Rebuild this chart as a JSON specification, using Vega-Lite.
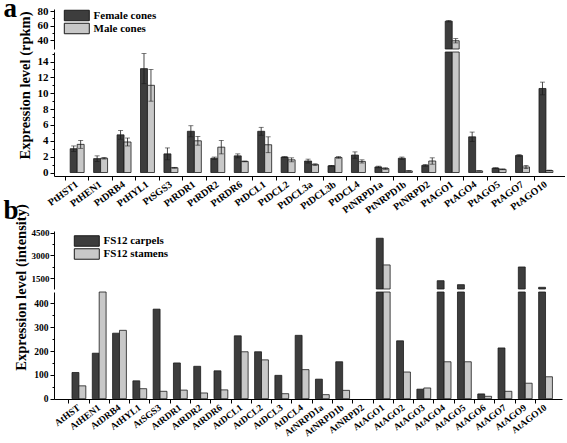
{
  "$schema": "https://vega.github.io/schema/vega-lite/v6.json",
  "padding": {"left": 3, "top": -6, "right": 0, "bottom": 0},
  "background": "white",
  "datasets": {
    "a": [
      {"g": "PtHST1", "s": "Female cones", "v": 3.0, "lo": 2.65, "hi": 3.35},
      {"g": "PtHST1", "s": "Male cones", "v": 3.55, "lo": 3.05, "hi": 4.05},
      {"g": "PtHEN1", "s": "Female cones", "v": 1.75, "lo": 1.4, "hi": 2.1},
      {"g": "PtHEN1", "s": "Male cones", "v": 1.8, "lo": 1.7, "hi": 1.9},
      {"g": "PtDRB4", "s": "Female cones", "v": 4.75, "lo": 4.2, "hi": 5.3},
      {"g": "PtDRB4", "s": "Male cones", "v": 3.85, "lo": 3.35, "hi": 4.35},
      {"g": "PtHYL1", "s": "Female cones", "v": 13.1, "lo": 11.2, "hi": 15.0},
      {"g": "PtHYL1", "s": "Male cones", "v": 11.0, "lo": 9.0, "hi": 13.0},
      {"g": "PtSGS3", "s": "Female cones", "v": 2.35, "lo": 1.6, "hi": 3.1},
      {"g": "PtSGS3", "s": "Male cones", "v": 0.6, "lo": 0.55, "hi": 0.65},
      {"g": "PtRDR1", "s": "Female cones", "v": 5.2, "lo": 4.5, "hi": 5.9},
      {"g": "PtRDR1", "s": "Male cones", "v": 4.0, "lo": 3.45, "hi": 4.55},
      {"g": "PtRDR2", "s": "Female cones", "v": 1.8, "lo": 1.65, "hi": 1.95},
      {"g": "PtRDR2", "s": "Male cones", "v": 3.2, "lo": 2.35, "hi": 4.05},
      {"g": "PtRDR6", "s": "Female cones", "v": 2.1, "lo": 1.85, "hi": 2.35},
      {"g": "PtRDR6", "s": "Male cones", "v": 1.4, "lo": 1.35, "hi": 1.45},
      {"g": "PtDCL1", "s": "Female cones", "v": 5.2, "lo": 4.7, "hi": 5.7},
      {"g": "PtDCL1", "s": "Male cones", "v": 3.5, "lo": 2.5, "hi": 4.5},
      {"g": "PtDCL2", "s": "Female cones", "v": 1.95, "lo": 1.9, "hi": 2.0},
      {"g": "PtDCL2", "s": "Male cones", "v": 1.6, "lo": 1.35, "hi": 1.85},
      {"g": "PtDCL3a", "s": "Female cones", "v": 1.45, "lo": 1.2, "hi": 1.7},
      {"g": "PtDCL3a", "s": "Male cones", "v": 1.0, "lo": 0.9, "hi": 1.1},
      {"g": "PtDCL3b", "s": "Female cones", "v": 0.85, "lo": 0.8, "hi": 0.9},
      {"g": "PtDCL3b", "s": "Male cones", "v": 1.9, "lo": 1.8, "hi": 2.0},
      {"g": "PtDCL4", "s": "Female cones", "v": 2.2, "lo": 1.8, "hi": 2.6},
      {"g": "PtDCL4", "s": "Male cones", "v": 1.4, "lo": 1.2, "hi": 1.6},
      {"g": "PtNRPD1a", "s": "Female cones", "v": 0.7, "lo": 0.6, "hi": 0.8},
      {"g": "PtNRPD1a", "s": "Male cones", "v": 0.5, "lo": 0.4, "hi": 0.6},
      {"g": "PtNRPD1b", "s": "Female cones", "v": 1.8, "lo": 1.65, "hi": 1.95},
      {"g": "PtNRPD1b", "s": "Male cones", "v": 0.2, "lo": 0.15, "hi": 0.25},
      {"g": "PtNRPD2", "s": "Female cones", "v": 0.9, "lo": 0.8, "hi": 1.0},
      {"g": "PtNRPD2", "s": "Male cones", "v": 1.45, "lo": 1.05, "hi": 1.85},
      {"g": "PtAGO1", "s": "Female cones", "v": 66, "lo": 65, "hi": 67},
      {"g": "PtAGO1", "s": "Male cones", "v": 39, "lo": 36, "hi": 42},
      {"g": "PtAGO4", "s": "Female cones", "v": 4.5, "lo": 3.9, "hi": 5.1},
      {"g": "PtAGO4", "s": "Male cones", "v": 0.2, "lo": 0.18, "hi": 0.22},
      {"g": "PtAGO5", "s": "Female cones", "v": 0.55, "lo": 0.5, "hi": 0.6},
      {"g": "PtAGO5", "s": "Male cones", "v": 0.4, "lo": 0.35, "hi": 0.45},
      {"g": "PtAGO7", "s": "Female cones", "v": 2.15, "lo": 2.05, "hi": 2.25},
      {"g": "PtAGO7", "s": "Male cones", "v": 0.7, "lo": 0.5, "hi": 0.9},
      {"g": "PtAGO10", "s": "Female cones", "v": 10.6, "lo": 9.8, "hi": 11.4},
      {"g": "PtAGO10", "s": "Male cones", "v": 0.25, "lo": 0.2, "hi": 0.3}
    ],
    "b": [
      {"g": "AtHST", "s": "FS12 carpels", "v": 110}, {"g": "AtHST", "s": "FS12 stamens", "v": 54},
      {"g": "AtHEN1", "s": "FS12 carpels", "v": 191}, {"g": "AtHEN1", "s": "FS12 stamens", "v": 600},
      {"g": "AtDRB4", "s": "FS12 carpels", "v": 275}, {"g": "AtDRB4", "s": "FS12 stamens", "v": 287},
      {"g": "AtHYL1", "s": "FS12 carpels", "v": 75}, {"g": "AtHYL1", "s": "FS12 stamens", "v": 42},
      {"g": "AtSGS3", "s": "FS12 carpels", "v": 376}, {"g": "AtSGS3", "s": "FS12 stamens", "v": 31},
      {"g": "AtRDR1", "s": "FS12 carpels", "v": 150}, {"g": "AtRDR1", "s": "FS12 stamens", "v": 36},
      {"g": "AtRDR2", "s": "FS12 carpels", "v": 136}, {"g": "AtRDR2", "s": "FS12 stamens", "v": 24},
      {"g": "AtRDR6", "s": "FS12 carpels", "v": 117}, {"g": "AtRDR6", "s": "FS12 stamens", "v": 37},
      {"g": "AtDCL1", "s": "FS12 carpels", "v": 264}, {"g": "AtDCL1", "s": "FS12 stamens", "v": 197},
      {"g": "AtDCL2", "s": "FS12 carpels", "v": 197}, {"g": "AtDCL2", "s": "FS12 stamens", "v": 163},
      {"g": "AtDCL3", "s": "FS12 carpels", "v": 98}, {"g": "AtDCL3", "s": "FS12 stamens", "v": 21},
      {"g": "AtDCL4", "s": "FS12 carpels", "v": 266}, {"g": "AtDCL4", "s": "FS12 stamens", "v": 122},
      {"g": "AtNRPD1a", "s": "FS12 carpels", "v": 82}, {"g": "AtNRPD1a", "s": "FS12 stamens", "v": 17},
      {"g": "AtNRPD1b", "s": "FS12 carpels", "v": 155}, {"g": "AtNRPD1b", "s": "FS12 stamens", "v": 35},
      {"g": "AtNRPD2", "s": "FS12 carpels", "v": 0}, {"g": "AtNRPD2", "s": "FS12 stamens", "v": 0},
      {"g": "AtAGO1", "s": "FS12 carpels", "v": 4150}, {"g": "AtAGO1", "s": "FS12 stamens", "v": 2370},
      {"g": "AtAGO2", "s": "FS12 carpels", "v": 243}, {"g": "AtAGO2", "s": "FS12 stamens", "v": 112},
      {"g": "AtAGO3", "s": "FS12 carpels", "v": 40}, {"g": "AtAGO3", "s": "FS12 stamens", "v": 45},
      {"g": "AtAGO4", "s": "FS12 carpels", "v": 1320}, {"g": "AtAGO4", "s": "FS12 stamens", "v": 155},
      {"g": "AtAGO5", "s": "FS12 carpels", "v": 1055}, {"g": "AtAGO5", "s": "FS12 stamens", "v": 155},
      {"g": "AtAGO6", "s": "FS12 carpels", "v": 20}, {"g": "AtAGO6", "s": "FS12 stamens", "v": 10},
      {"g": "AtAGO7", "s": "FS12 carpels", "v": 213}, {"g": "AtAGO7", "s": "FS12 stamens", "v": 31},
      {"g": "AtAGO9", "s": "FS12 carpels", "v": 2235}, {"g": "AtAGO9", "s": "FS12 stamens", "v": 65},
      {"g": "AtAGO10", "s": "FS12 carpels", "v": 880}, {"g": "AtAGO10", "s": "FS12 stamens", "v": 92}
    ]
  },
  "bounds": "flush",
  "spacing": 3,
  "resolve": {
    "scale": {"color": "independent", "x": "independent", "y": "independent", "xOffset": "independent"},
    "legend": {"color": "independent"},
    "axis": {"x": "independent", "y": "independent"}
  },
  "vconcat": [
    {
      "width": 511, "height": 40,
      "data": {"name": "a"},
      "resolve": {"axis": {"y": "independent"}},
      "layer": [
        {
          "transform": [{"filter": "datum.v > 27.6"}],
          "mark": {"type": "bar", "stroke": "#1a1a1a", "strokeWidth": 0.8},
          "encoding": {
            "x": {"field": "g", "type": "nominal", "sort": null, "scale": {"domain": ["PtHST1","PtHEN1","PtDRB4","PtHYL1","PtSGS3","PtRDR1","PtRDR2","PtRDR6","PtDCL1","PtDCL2","PtDCL3a","PtDCL3b","PtDCL4","PtNRPD1a","PtNRPD1b","PtNRPD2","PtAGO1","PtAGO4","PtAGO5","PtAGO7","PtAGO10"], "paddingInner": 0, "paddingOuter": 0.4, "align": 0.61}, "axis": null},
            "xOffset": {"field": "s", "type": "nominal", "sort": null, "scale": {"domain": ["Female cones", "Male cones"], "paddingInner": 0, "paddingOuter": 0.68}},
            "y": {"field": "v", "type": "quantitative", "scale": {"domain": [27.6, 82.8], "nice": false, "clamp": true},
              "axis": {"orient": "left", "values": [40, 60, 80], "title": "a", "titleAngle": 0, "titleX": -51, "titleY": 7, "titleFontSize": 27, "titleAlign": "left", "titleBaseline": "alphabetic"}},
            "color": {"field": "s", "type": "nominal", "sort": null, "scale": {"domain": ["Female cones", "Male cones"], "range": ["#3d3d3d", "#c8c8c8"]},
              "legend": {"title": null, "orient": "none", "legendX": 17.3, "legendY": 1}}
          }
        },
        {
          "transform": [{"filter": "datum.lo > 27.6"}],
          "mark": {"type": "rule", "color": "#1a1a1a", "strokeWidth": 0.8},
          "encoding": {
            "x": {"field": "g", "type": "nominal", "sort": null, "axis": null},
            "xOffset": {"field": "s", "type": "nominal", "sort": null},
            "y": {"field": "lo", "type": "quantitative", "scale": {"domain": [27.6, 82.8], "nice": false, "clamp": true},
              "axis": {"orient": "left", "values": [50, 70], "labels": false, "domain": false, "tickSize": 2, "title": null}},
            "y2": {"field": "hi"}
          }
        },
        {
          "transform": [{"filter": "datum.lo > 27.6"}],
          "mark": {"type": "tick", "color": "#1a1a1a", "size": 5, "thickness": 0.8},
          "encoding": {
            "x": {"field": "g", "type": "nominal", "sort": null, "axis": null},
            "xOffset": {"field": "s", "type": "nominal", "sort": null},
            "y": {"field": "lo", "type": "quantitative", "scale": {"domain": [27.6, 82.8], "nice": false, "clamp": true}, "axis": null}
          }
        },
        {
          "transform": [{"filter": "datum.lo > 27.6"}],
          "mark": {"type": "tick", "color": "#1a1a1a", "size": 5, "thickness": 0.8},
          "encoding": {
            "x": {"field": "g", "type": "nominal", "sort": null, "axis": null},
            "xOffset": {"field": "s", "type": "nominal", "sort": null},
            "y": {"field": "hi", "type": "quantitative", "scale": {"domain": [27.6, 82.8], "nice": false, "clamp": true}, "axis": null}
          }
        }
      ]
    },
    {
      "width": 511, "height": 124,
      "data": {"name": "a"},
      "resolve": {"axis": {"x": "independent", "y": "independent"}},
      "layer": [
        {
          "mark": {"type": "bar", "stroke": "#1a1a1a", "strokeWidth": 0.8},
          "encoding": {
            "x": {"field": "g", "type": "nominal", "sort": null, "scale": {"paddingInner": 0, "paddingOuter": 0.4, "align": 0.61},
              "axis": {"title": null, "orient": "bottom", "ticks": false, "labelAngle": -36, "labelAlign": "right", "labelBaseline": "middle", "labelPadding": 7, "labelFontSize": 10}},
            "xOffset": {"field": "s", "type": "nominal", "sort": null, "scale": {"paddingInner": 0, "paddingOuter": 0.68}},
            "y": {"field": "v", "type": "quantitative", "scale": {"domain": [-0.44, 15.2], "nice": false, "clamp": true},
              "axis": {"orient": "left", "values": [0, 2, 4, 6, 8, 10, 12, 14], "title": "Expression level (rpkm)", "titleY": 33, "titleX": -22}},
            "color": {"field": "s", "type": "nominal", "sort": null, "scale": {"range": ["#3d3d3d", "#c8c8c8"]}, "legend": null}
          }
        },
        {
          "transform": [{"filter": "datum.hi < 15.2"}],
          "mark": {"type": "rule", "color": "#1a1a1a", "strokeWidth": 0.8},
          "encoding": {
            "x": {"field": "g", "type": "nominal", "sort": null,
              "axis": {"title": null, "orient": "bottom", "labels": false, "domain": false, "ticks": true, "tickSize": 4, "bandPosition": 0}},
            "xOffset": {"field": "s", "type": "nominal", "sort": null},
            "y": {"field": "lo", "type": "quantitative", "scale": {"domain": [-0.44, 15.2], "nice": false, "clamp": true},
              "axis": {"orient": "left", "values": [1, 3, 5, 7, 9, 11, 13, 15], "labels": false, "domain": false, "tickSize": 2, "title": null}},
            "y2": {"field": "hi"}
          }
        },
        {
          "transform": [{"filter": "datum.hi < 15.2"}],
          "mark": {"type": "tick", "color": "#1a1a1a", "size": 5, "thickness": 0.8},
          "encoding": {
            "x": {"field": "g", "type": "nominal", "sort": null, "axis": null},
            "xOffset": {"field": "s", "type": "nominal", "sort": null},
            "y": {"field": "lo", "type": "quantitative", "scale": {"domain": [-0.44, 15.2], "nice": false, "clamp": true}, "axis": null}
          }
        },
        {
          "transform": [{"filter": "datum.hi < 15.2"}],
          "mark": {"type": "tick", "color": "#1a1a1a", "size": 5, "thickness": 0.8},
          "encoding": {
            "x": {"field": "g", "type": "nominal", "sort": null, "axis": null},
            "xOffset": {"field": "s", "type": "nominal", "sort": null},
            "y": {"field": "hi", "type": "quantitative", "scale": {"domain": [-0.44, 15.2], "nice": false, "clamp": true}, "axis": null}
          }
        }
      ]
    },
    {
      "width": 508, "height": 49,
      "data": {"values": [{}]},
      "mark": {"type": "rule", "opacity": 0},
      "encoding": {}
    },
    {
      "width": 508, "height": 58,
      "data": {"name": "b"},
      "resolve": {"axis": {"y": "independent"}},
      "layer": [
        {
          "transform": [{"filter": "datum.v > 767"}],
          "mark": {"type": "bar", "stroke": "#1a1a1a", "strokeWidth": 0.8},
          "encoding": {
            "x": {"field": "g", "type": "nominal", "sort": null, "scale": {"domain": ["AtHST","AtHEN1","AtDRB4","AtHYL1","AtSGS3","AtRDR1","AtRDR2","AtRDR6","AtDCL1","AtDCL2","AtDCL3","AtDCL4","AtNRPD1a","AtNRPD1b","AtNRPD2","AtAGO1","AtAGO2","AtAGO3","AtAGO4","AtAGO5","AtAGO6","AtAGO7","AtAGO9","AtAGO10"], "paddingInner": 0, "paddingOuter": 0.52, "align": 0.7}, "axis": null},
            "xOffset": {"field": "s", "type": "nominal", "sort": null, "scale": {"domain": ["FS12 carpels", "FS12 stamens"], "paddingInner": 0, "paddingOuter": 0.47}},
            "y": {"field": "v", "type": "quantitative", "scale": {"domain": [767, 4633], "nice": false, "clamp": true},
              "axis": {"orient": "left", "values": [1500, 3000, 4500], "format": "d", "labelFontSize": 9, "labelPadding": 1, "title": "b", "titleAngle": 0, "titleX": -51, "titleY": -13, "titleFontSize": 27, "titleAlign": "left", "titleBaseline": "alphabetic"}},
            "color": {"field": "s", "type": "nominal", "sort": null, "scale": {"domain": ["FS12 carpels", "FS12 stamens"], "range": ["#3d3d3d", "#c8c8c8"]},
              "legend": {"title": null, "orient": "none", "legendX": 27.3, "legendY": 4.5}}
          }
        },
        {
          "transform": [{"filter": "datum.v > 767"}],
          "mark": {"type": "bar", "opacity": 0},
          "encoding": {
            "x": {"field": "g", "type": "nominal", "sort": null, "axis": null},
            "y": {"field": "v", "type": "quantitative", "scale": {"domain": [767, 4633], "nice": false, "clamp": true},
              "axis": {"orient": "left", "values": [2250, 3750], "labels": false, "domain": false, "tickSize": 2, "title": null}}
          }
        }
      ]
    },
    {
      "width": 508, "height": 107,
      "data": {"name": "b"},
      "resolve": {"axis": {"x": "independent", "y": "independent"}},
      "layer": [
        {
          "transform": [{"filter": "datum.v > 0"}],
          "mark": {"type": "bar", "stroke": "#1a1a1a", "strokeWidth": 0.8},
          "encoding": {
            "x": {"field": "g", "type": "nominal", "sort": null, "scale": {"domain": ["AtHST","AtHEN1","AtDRB4","AtHYL1","AtSGS3","AtRDR1","AtRDR2","AtRDR6","AtDCL1","AtDCL2","AtDCL3","AtDCL4","AtNRPD1a","AtNRPD1b","AtNRPD2","AtAGO1","AtAGO2","AtAGO3","AtAGO4","AtAGO5","AtAGO6","AtAGO7","AtAGO9","AtAGO10"], "paddingInner": 0, "paddingOuter": 0.52, "align": 0.7},
              "axis": {"title": null, "orient": "bottom", "ticks": false, "labelAngle": -37, "labelAlign": "right", "labelBaseline": "middle", "labelPadding": 7, "labelFontSize": 9.5}},
            "xOffset": {"field": "s", "type": "nominal", "sort": null, "scale": {"domain": ["FS12 carpels", "FS12 stamens"], "paddingInner": 0, "paddingOuter": 0.47}},
            "y": {"field": "v", "type": "quantitative", "scale": {"domain": [-1.3, 448], "nice": false, "clamp": true},
              "axis": {"orient": "left", "values": [0, 100, 200, 300, 400], "title": "Expression level (intensity)", "titleY": -5, "titleX": -26, "labelFontSize": 9.5}},
            "color": {"field": "s", "type": "nominal", "sort": null, "scale": {"domain": ["FS12 carpels", "FS12 stamens"], "range": ["#3d3d3d", "#c8c8c8"]}, "legend": null}
          }
        },
        {
          "mark": {"type": "bar", "opacity": 0},
          "encoding": {
            "x": {"field": "g", "type": "nominal", "sort": null,
              "axis": {"title": null, "orient": "bottom", "labels": false, "domain": false, "ticks": true, "tickSize": 4, "bandPosition": 0}},
            "y": {"field": "v", "type": "quantitative", "scale": {"domain": [-1.3, 448], "nice": false, "clamp": true},
              "axis": {"orient": "left", "values": [50, 150, 250, 350], "labels": false, "domain": false, "tickSize": 2, "title": null}}
          }
        }
      ]
    }
  ],
  "config": {
    "font": "Liberation Serif",
    "view": {"stroke": null},
    "axis": {"labelFont": "Liberation Serif", "titleFont": "Liberation Serif", "labelFontWeight": "bold", "titleFontWeight": "bold",
      "labelColor": "#000", "titleColor": "#000", "domainColor": "#000", "tickColor": "#000", "grid": false,
      "labelFontSize": 11, "titleFontSize": 14.5, "tickSize": 4, "labelPadding": 2, "domainWidth": 1, "tickWidth": 1,
      "labelOverlap": false, "labelFlush": false},
    "legend": {"labelFont": "Liberation Serif", "labelFontWeight": "bold", "labelFontSize": 11, "labelColor": "#000",
      "symbolType": "M-3,-1.26H3V1.26H-3Z", "symbolSize": 69.4, "symbolStrokeColor": "#1a1a1a", "symbolStrokeWidth": 1,
      "symbolOpacity": 1, "rowPadding": -3, "labelOffset": 11.3, "padding": 0},
    "title": {"font": "Liberation Serif", "fontWeight": "bold", "color": "#000"}
  }
}
